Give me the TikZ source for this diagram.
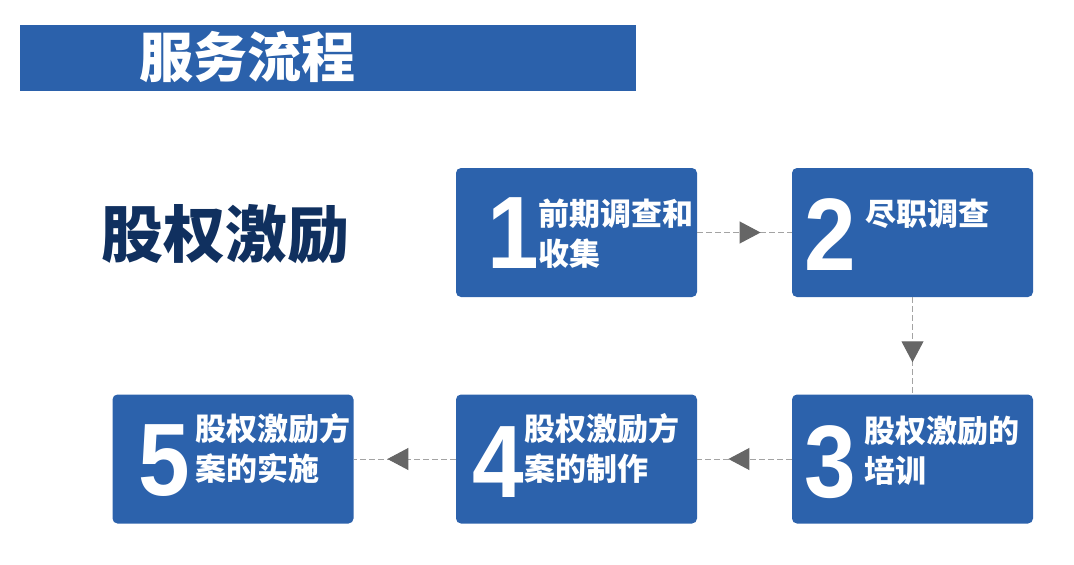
\documentclass[tikz,border=0pt]{standalone}
\usepackage{fontspec}
\setmainfont{Liberation Sans}
\newfontfamily\cjk{Noto Sans CJK SC}
\usetikzlibrary{arrows.meta,decorations.markings}
\definecolor{bandblue}{HTML}{2B61AB}
\definecolor{boxblue}{HTML}{2C62AC}
\definecolor{navy}{HTML}{10305F}
\definecolor{flowgray}{HTML}{666666}
\newcommand\bignum[1]{\scalebox{0.9}[1]{#1}}

\begin{document}
\begin{tikzpicture}[x=1pt,y=-1pt,
	box/.style={fill=boxblue, rounded corners=5pt, minimum width=241pt, minimum height=129pt, inner sep=0pt},
	num/.style={text=white, font=\bfseries\fontsize{103}{103}\selectfont, inner sep=0pt, anchor=base},
	txt/.style={text=white, font=\cjk\bfseries\fontsize{31}{40}\selectfont, align=left, inner sep=0pt, anchor=north west},
	flow/.style={flowgray!60, dash pattern=on 6pt off 3pt, line width=1pt, postaction={decorate},
		decoration={markings, mark=at position 0.67 with {\arrow{Triangle[width=22pt,length=21pt,color=flowgray]}}}}]
			%%%%% START %%%%%
			
			\useasboundingbox (0,0) rectangle (1074,565);
			
			\node[fill=bandblue, minimum width=616pt, minimum height=66pt, inner sep=0pt] (band) at (328,58) {};
			\node[text=white, font=\cjk\bfseries\fontsize{54}{54}\selectfont, inner sep=0pt] (title) at (247,57) {服务流程};
			
			\node[text=navy, font=\cjk\bfseries\fontsize{62}{62}\selectfont, inner sep=0pt] (topic) at (225,234) {股权激励};
			
			\node[box] (b1) at (576.5,232.5) {};
			\node[box] (b2) at (912.5,232.5) {};
			\node[box] (b3) at (912.5,459) {};
			\node[box] (b4) at (576.5,459) {};
			\node[box] (b5) at (233,459) {};
			
			\node[num] (n1) at (513,268) {\bignum{1}};
			\node[num] (n2) at (830,270) {\bignum{2}};
			\node[num] (n3) at (830,497) {\bignum{3}};
			\node[num] (n4) at (498,497) {\bignum{4}};
			\node[num] (n5) at (164,495) {\bignum{5}};
			
			\node[txt] (t1) at (538,199) {前期调查和\\收集};
			\node[txt] (t2) at (865,199) {尽职调查};
			\node[txt] (t3) at (864,416) {股权激励的\\培训};
			\node[txt] (t4) at (524,413) {股权激励方\\案的制作};
			\node[txt] (t5) at (195,413) {股权激励方\\案的实施};
			
			\draw[flow] (b1) -- (b2);
			\draw[flow] (b2) -- (b3);
			\draw[flow] (b3) -- (b4);
			\draw[flow] (b4) -- (b5);
			
			%%%%% END %%%%%
\end{tikzpicture}
\end{document}
